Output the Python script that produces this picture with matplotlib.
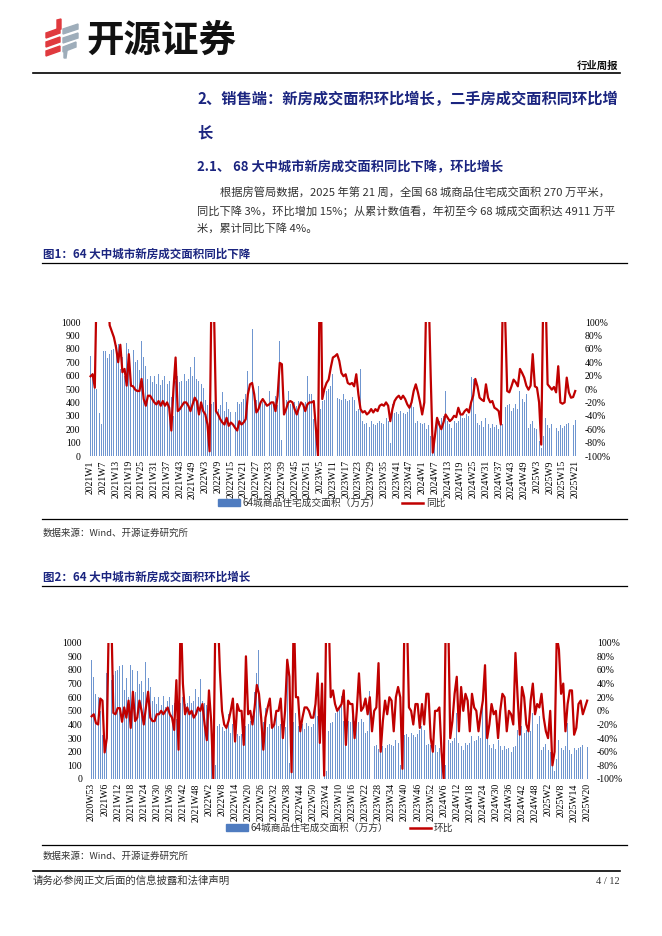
import matplotlib
matplotlib.use('Agg')
import matplotlib.pyplot as plt
from matplotlib.patches import Polygon, Patch
from matplotlib.lines import Line2D

W, H = 662, 936
CJK = ['Noto Sans CJK SC', 'DejaVu Sans']
SERIF = ['Liberation Serif', 'DejaVu Serif']
plt.rcParams['font.family'] = CJK
NAVY = '#1B2580'
BAR = '#6F96D0'
RED = '#C00000'

# ---------------- data ----------------
weeks_per_year = {2020: 53, 2021: 52, 2022: 52, 2023: 52, 2024: 52, 2025: 21}
first_week = {2020: 53}

# weekly transaction area (万方), 2020W53 .. 2025W21
area = [870,
    750, 620, 600, 500, 320, 237, 780, 780, 730, 760,
    790, 800, 830, 836, 650, 740, 600, 840, 800, 640,
    790, 700, 720, 640, 860, 740, 673, 574, 600, 549,
    600, 540, 611, 530, 570, 600, 540, 560, 437, 300,
    560, 598, 549, 560, 611, 560, 574, 661, 600, 736,
    574, 561, 540, 511, 420, 380, 100, 387, 400, 380,
    350, 380, 480, 337, 400, 350, 330, 312, 330, 400,
    390, 400, 425, 460, 636, 780, 950, 425, 420, 520,
    380, 400, 390, 420, 487, 390, 400, 450, 380, 860,
    120, 410, 420, 487, 390, 380, 400, 370, 410, 390,
    380, 400, 598, 460, 460, 275, 300, 60, 350, 412,
    420, 487, 500, 524, 611, 425, 430, 425, 420, 462,
    425, 410, 420, 437, 420, 337, 350, 648, 260, 240,
    250, 220, 260, 240, 230, 250, 260, 250, 240, 287,
    262, 100, 387, 320, 330, 310, 337, 320, 310, 330,
    362, 387, 362, 250, 260, 250, 240, 250, 200, 230,
    150, 40, 100, 287, 262, 280, 300, 487, 262, 240,
    212, 262, 250, 262, 312, 280, 287, 312, 300, 586,
    574, 312, 250, 230, 260, 220, 287, 240, 212, 240,
    220, 230, 200, 237, 240, 362, 380, 387, 337, 360,
    387, 350, 487, 425, 400, 462, 212, 237, 260, 212,
    200, 112, 62, 150, 287, 230, 212, 240, 412, 212,
    187, 230, 212, 225, 237, 250, 237, 235, 270]

# 同比 (%), 2021W1 .. 2025W21
yoy = [19, 22, 2, 180, 250, 300, 260, 200, 150, 95,
    86, 77, 62, 40, 66, 25, 30, 5, 52, 5,
    4, -1, -3, -3, 15, -15, -25, -10, -10, -15,
    -20, -23, -18, -25, -18, -25, -20, -28, -62, 0,
    47, -33, -30, -25, -20, -20, -25, -33, -23, -13,
    -18, -38, -20, -33, -38, -53, -93, 180, 130, -33,
    -38, -45, -50, -53, -43, -55, -50, -53, -58, -62,
    -48, -53, -50, -45, -8, 7, 9, -8, -35, -30,
    -20, -15, -20, -25, -23, -20, -20, -33, -10, 39,
    37, -38, -30, -20, -18, -20, -30, -38, -28, -20,
    -23, -33, -23, -20, -20, -18, -60, -100, 250, -15,
    0, 9, 14, 32, 47, 49, 52, 42, 24, 19,
    22, 9, 7, 9, 4, 22, -8, -30, -35, -33,
    -38, -35, -30, -35, -30, -33, -25, -23, -25, -20,
    -25, -48, -30, -18, -13, -10, -15, -10, -15, -23,
    -28, -20, -3, 7, -5, -20, -38, -20, 150, 150,
    20, -95, -70, -43, -53, -60, -50, -38, -43, -48,
    -45, -40, -42, -28, -38, -38, -33, -30, -35, -20,
    -10, 15, 4, -13, -16, -18, 7, -13, -20, -18,
    -28, -30, -33, -53, 150, 110, -3, -5, 4, 14,
    10, 4, 30, 24, 17, 5, -1, 5, 52, 4,
    2, -20, -83, 150, 150, 7, 3, -1, 3, -5,
    34, -20, -22, -20, 17, -5, -13, -12, -3]

# 环比 (%), 2020W53 .. 2025W20
wow = [-8, -5, -18, -20, 18, 15, -61, -40, 150, 150,
    -3, -5, 4, 4, -16, 5, -10, 15, -25, 28,
    -15, -10, 15, 0, -20, 5, 28, -10, -15, -15,
    -5, -5, 0, -5, 0, 5, -5, -10, -28, 45,
    -57, 150, 40, -5, 5, -5, 0, -10, -5, 5,
    0, 10, -20, -43, 30, -15, -100, 150, 150, 60,
    0, -20, -25, -15, 0, 18, -45, 10, 0, 0,
    -50, 80, -5, 0, -20, 5, 38, 25, -10, -57,
    -10, 5, 18, -25, -20, 0, 0, 18, -40, 0,
    75, 50, -90, 150, 20, 20, -30, -10, 5, 5,
    0, -10, -10, 10, 55, -47, 40, -95, 150, 150,
    20, 30, 10, 0, 5, 10, 30, -50, 15, 10,
    10, -40, 0, 55, 0, 5, 18, -5, 20, -30,
    0, 5, 70, -60, -15, 15, -5, 20, 15, -30,
    20, 35, 20, -85, 150, 150, 5, 0, -20, 10,
    10, -25, 10, -20, 25, 25, -40, -60, 0, 0,
    5, -60, -100, 150, 150, -40, -15, 25, 50, -30,
    35, 0, 25, 15, -30, 25, 5, 0, -30, -5,
    15, 67, -40, -20, 10, -5, 0, -40, 0, 25,
    20, -30, 0, -5, -20, 85, 20, -35, 35, 20,
    -20, -30, 15, 40, -5, 10, 5, 25, -10, -30,
    -40, 0, -80, -60, 110, 90, 25, 40, -30, 10,
    30, 30, -35, -25, 10, 15, -5, 5, 15]

weeks = []
for yr, last in weeks_per_year.items():
    for wk in range(first_week.get(yr, 1), last + 1):
        weeks.append(f'{yr}W{wk}')

bar_label = '64城商品住宅成交面积（万方）'
left_ticks = list(range(0, 1001, 100))
right_ticks = list(range(-100, 101, 20))

# ---------------- figure ----------------
fig = plt.figure(figsize=(W / 100, H / 100), dpi=100)


def P(x, y):
    return x / W, 1 - y / H


def hline(y, x0, x1, lw=0.9):
    fig.add_artist(Line2D([x0 / W, x1 / W], [1 - y / H] * 2,
                          transform=fig.transFigure, color='black', lw=lw))


def txt(x, y, s, **kw):
    kw.setdefault('va', 'center')
    fig.text(*P(x, y), s, **kw)


# logo
red_polys = [
    [(46, 33), (60, 28), (60, 33), (46, 38)],
    [(46, 42), (60, 37), (60, 42), (46, 47)],
    [(46, 51), (60, 46), (60, 51), (46, 56)],
    [(57, 20), (61, 19), (61, 29), (57, 30)],
]
gray_polys = [
    [(63, 29), (78, 24), (78, 29), (63, 34)],
    [(63, 38), (78, 33), (78, 38), (63, 43)],
    [(63, 47), (76, 42), (76, 47), (63, 52)],
    [(64, 52), (67, 51), (66, 58), (64, 58)],
]
for pts in red_polys:
    fig.add_artist(Polygon([P(*p) for p in pts], closed=True, color='#E03A3E',
                           transform=fig.transFigure))
for pts in gray_polys:
    fig.add_artist(Polygon([P(*p) for p in pts], closed=True, color='#9EADBA',
                           transform=fig.transFigure))
txt(86, 40, '开源证券', fontsize=27, fontweight='bold', color='#111111')
txt(618, 66, '行业周报', fontsize=7.5, fontweight='bold', ha='right', color='#111111')
hline(73, 33, 620, lw=1.2)

txt(197, 99, '2、销售端：新房成交面积环比增长，二手房成交面积同环比增',
    fontsize=11, fontweight='bold', color=NAVY)
txt(197, 133, '长', fontsize=11, fontweight='bold', color=NAVY)
txt(197, 167, '2.1、 68 大中城市新房成交面积同比下降，环比增长',
    fontsize=9.5, fontweight='bold', color=NAVY)
body = ['根据房管局数据，2025 年第 21 周，全国 68 城商品住宅成交面积 270 万平米，',
        '同比下降 3%，环比增加 15%；从累计数值看，年初至今 68 城成交面积达 4911 万平',
        '米，累计同比下降 4%。']
txt(220, 193, body[0], fontsize=8.1, color='#333333')
txt(197, 211, body[1], fontsize=8.1, color='#333333')
txt(197, 228, body[2], fontsize=8.1, color='#333333')


def chart(rect, bars, line, labels, line_label, legend_y, legend_x, lpad, rpad):
    ax = fig.add_axes(rect)
    x = list(range(len(bars)))
    ax.bar(x, bars, width=0.45, color=BAR, linewidth=0, zorder=1)
    ax.set_ylim(0, 1000)
    ax.set_yticks(left_ticks)
    ax.set_xlim(-1.2, len(bars) + 0.3)
    ax.set_xticks(x[::6])
    ax.set_xticklabels(labels[::6], rotation=90, family=SERIF, fontsize=7)
    ax.tick_params(axis='both', length=0, labelsize=7)
    ax.tick_params(axis='y', pad=lpad)
    ax.tick_params(axis='x', pad=3)
    for lb in ax.get_yticklabels():
        lb.set_family(SERIF)
    for s in ax.spines.values():
        s.set_visible(False)
    ax2 = ax.twinx()
    ax2.plot(x, line, color=RED, lw=1.6, zorder=3)
    ax2.set_ylim(-100, 100)
    ax2.set_yticks(right_ticks)
    ax2.set_yticklabels([f'{v}%' for v in right_ticks], family=SERIF, fontsize=7)
    ax2.tick_params(axis='y', length=0, pad=rpad)
    for s in ax2.spines.values():
        s.set_visible(False)
    handles = [Patch(color='#4F7CC0'), Line2D([0], [0], color=RED, lw=1.8)]
    fig.legend(handles, [bar_label, line_label], loc='center',
               bbox_to_anchor=P(legend_x, legend_y), ncol=2, frameon=False,
               fontsize=7, handlelength=2.2, handleheight=0.6,
               columnspacing=2.2, handletextpad=0.3, labelcolor='#333333')
    return ax


# Figure 1
txt(43, 254, '图1：64 大中城市新房成交面积同比下降', fontsize=8.3, fontweight='bold', color=NAVY)
hline(263, 42, 627)
chart([88 / W, 1 - 456 / H, 490 / W, 134 / H], area[1:], yoy, weeks[1:], '同比',
      503, 332, 5.5, 5)
hline(519, 42, 627)
txt(43, 533, '数据来源：Wind、开源证券研究所', fontsize=6.8, color='#333333')

# Figure 2
txt(43, 577, '图2：64 大中城市新房成交面积环比增长', fontsize=8.3, fontweight='bold', color=NAVY)
hline(586, 42, 627)
chart([89 / W, 1 - 779 / H, 501 / W, 136.3 / H], area[:-1], wow, weeks[:-1], '环比',
      828, 340, 5, 5)
hline(845, 42, 627)
txt(43, 856, '数据来源：Wind、开源证券研究所', fontsize=6.8, color='#333333')

# footer
hline(871, 33, 620, lw=1.2)
txt(33, 881, '请务必参阅正文后面的信息披露和法律声明', fontsize=7.5, color='#333333')
txt(620, 881, '4 / 12', fontsize=7.5, ha='right', color='#333333', family=SERIF)

fig.savefig('out.png', dpi=100)
